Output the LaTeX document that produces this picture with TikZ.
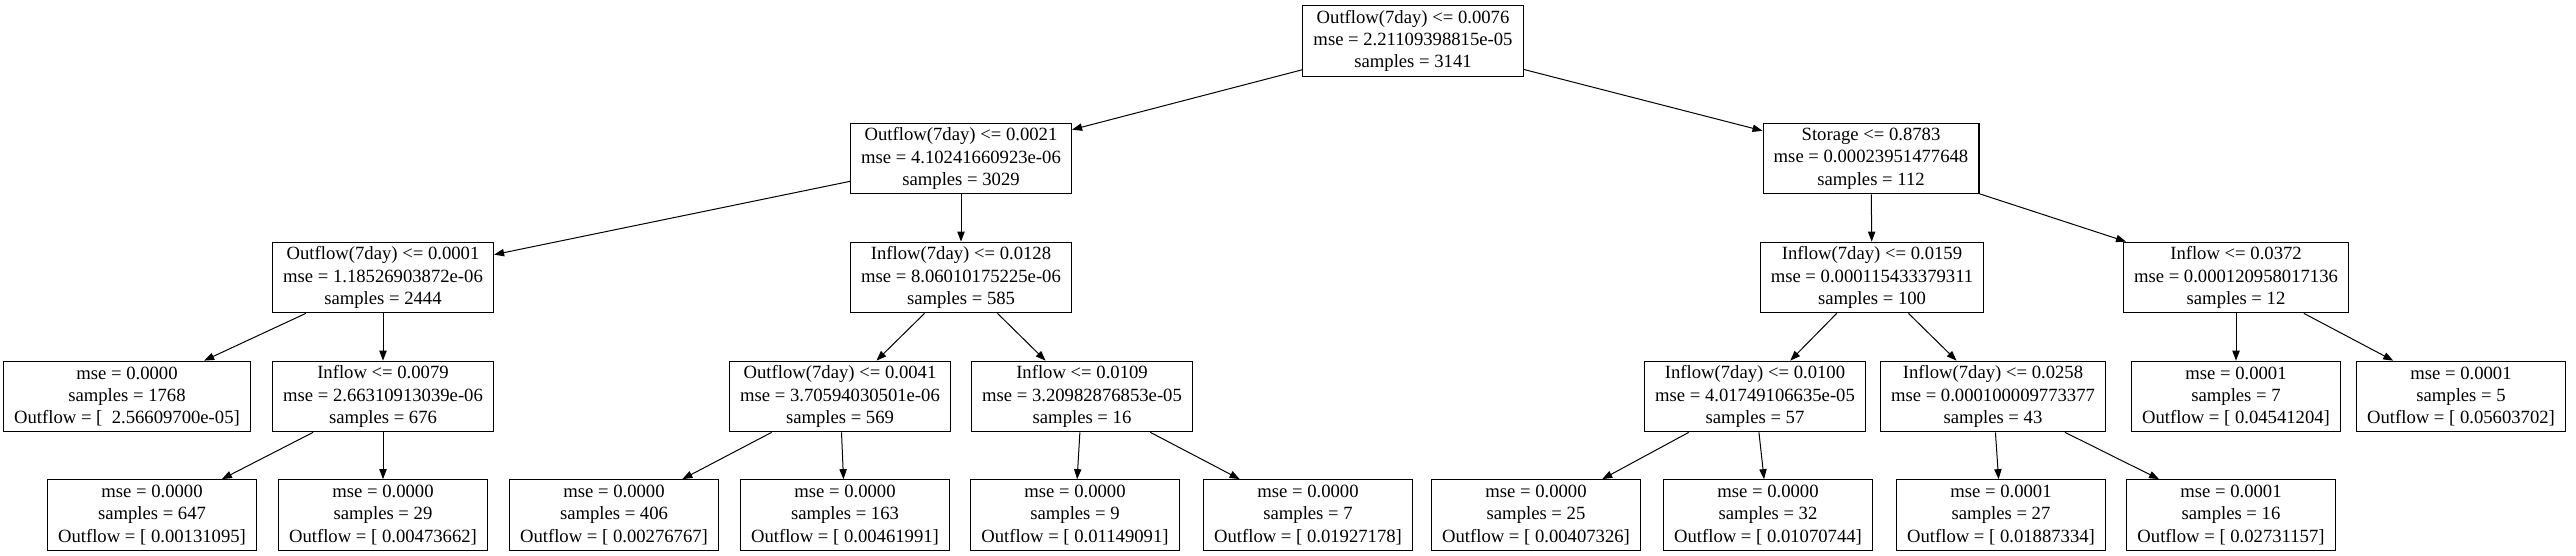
\documentclass[tikz,border=0pt]{standalone}
\usepackage{fontspec}
\setmainfont{Liberation Serif}
\usetikzlibrary{arrows.meta}

\begin{document}
\begin{tikzpicture}[x=0.75pt,y=-0.75pt,
	every node/.style={font=\fontsize{14}{16.8}\selectfont, align=center},
	splitbox/.style={draw, line width=0.8pt, minimum height=53pt, inner xsep=8pt, inner ysep=2pt},
	leafbox/.style={splitbox},
	edge/.style={line width=0.75pt, -{Triangle[length=7.5pt,width=5.5pt]}}]
	\useasboundingbox (0,0) rectangle (2576,556);
	% root and first split
	\node[splitbox] (root) at (1413,41) {Outflow(7day) <= 0.0076\\ mse = 2.21109398815e-05\\ samples = 3141};
	\node[splitbox] (l) at (961,158.5) {Outflow(7day) <= 0.0021\\ mse = 4.10241660923e-06\\ samples = 3029};
	\node[splitbox] (r) at (1871,158.5) {Storage <= 0.8783\\ mse = 0.00023951477648\\ samples = 112};
	% second level
	\node[splitbox] (ll) at (383,277.5) {Outflow(7day) <= 0.0001\\ mse = 1.18526903872e-06\\ samples = 2444};
	\node[splitbox] (lr) at (961,277.5) {Inflow(7day) <= 0.0128\\ mse = 8.06010175225e-06\\ samples = 585};
	\node[splitbox] (rl) at (1872,277.5) {Inflow(7day) <= 0.0159\\ mse = 0.000115433379311\\ samples = 100};
	\node[splitbox] (rr) at (2236,277.5) {Inflow <= 0.0372\\ mse = 0.000120958017136\\ samples = 12};
	% third level
	\node[leafbox] (lll) at (127,396.5) {mse = 0.0000\\ samples = 1768\\ Outflow = [\ \ 2.56609700e-05]};
	\node[splitbox] (llr) at (383,396.5) {Inflow <= 0.0079\\ mse = 2.66310913039e-06\\ samples = 676};
	\node[splitbox] (lrl) at (840,396.5) {Outflow(7day) <= 0.0041\\ mse = 3.70594030501e-06\\ samples = 569};
	\node[splitbox] (lrr) at (1082,396.5) {Inflow <= 0.0109\\ mse = 3.20982876853e-05\\ samples = 16};
	\node[splitbox] (rll) at (1755,396.5) {Inflow(7day) <= 0.0100\\ mse = 4.01749106635e-05\\ samples = 57};
	\node[splitbox] (rlr) at (1993,396.5) {Inflow(7day) <= 0.0258\\ mse = 0.000100009773377\\ samples = 43};
	\node[leafbox] (rrl) at (2236,396.5) {mse = 0.0001\\ samples = 7\\ Outflow = [ 0.04541204]};
	\node[leafbox] (rrr) at (2461,396.5) {mse = 0.0001\\ samples = 5\\ Outflow = [ 0.05603702]};
	% leaves
	\node[leafbox] (llrl) at (152,515) {mse = 0.0000\\ samples = 647\\ Outflow = [ 0.00131095]};
	\node[leafbox] (llrr) at (383,515) {mse = 0.0000\\ samples = 29\\ Outflow = [ 0.00473662]};
	\node[leafbox] (lrll) at (614,515) {mse = 0.0000\\ samples = 406\\ Outflow = [ 0.00276767]};
	\node[leafbox] (lrlr) at (845,515) {mse = 0.0000\\ samples = 163\\ Outflow = [ 0.00461991]};
	\node[leafbox] (lrrl) at (1075,515) {mse = 0.0000\\ samples = 9\\ Outflow = [ 0.01149091]};
	\node[leafbox] (lrrr) at (1308,515) {mse = 0.0000\\ samples = 7\\ Outflow = [ 0.01927178]};
	\node[leafbox] (rlll) at (1536,515) {mse = 0.0000\\ samples = 25\\ Outflow = [ 0.00407326]};
	\node[leafbox] (rllr) at (1768,515) {mse = 0.0000\\ samples = 32\\ Outflow = [ 0.01070744]};
	\node[leafbox] (rlrl) at (2001,515) {mse = 0.0001\\ samples = 27\\ Outflow = [ 0.01887334]};
	\node[leafbox] (rlrr) at (2231,515) {mse = 0.0001\\ samples = 16\\ Outflow = [ 0.02731157]};
	% edges
	\foreach \a/\b in {root/l, root/r, l/ll, l/lr, r/rl, r/rr,
		ll/lll, ll/llr, lr/lrl, lr/lrr, rl/rll, rl/rlr, rr/rrl, rr/rrr,
		llr/llrl, llr/llrr, lrl/lrll, lrl/lrlr, lrr/lrrl, lrr/lrrr,
		rll/rlll, rll/rllr, rlr/rlrl, rlr/rlrr}
		\draw[edge] (\a) -- (\b);
\end{tikzpicture}
\end{document}
